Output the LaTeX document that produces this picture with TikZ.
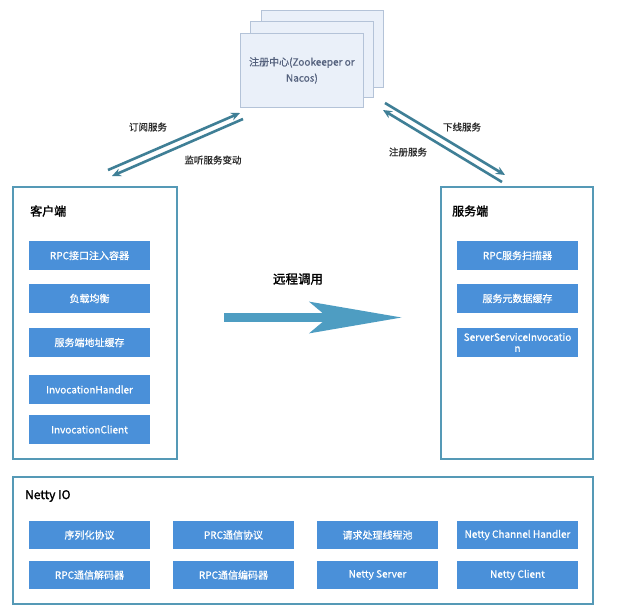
\documentclass[tikz,border=0pt]{standalone}
\usepackage{fontspec}
\setmainfont{Noto Sans CJK SC}
\newfontfamily\semib{Noto Sans CJK SC}[FakeBold=0.8]
\newfontfamily\heavyf{Noto Sans CJK SC}[FakeBold=1.6]
\usetikzlibrary{arrows.meta}
\definecolor{boxblue}{HTML}{4A90D9}
\definecolor{framecol}{HTML}{5599B6}
\definecolor{arrowteal}{HTML}{3F7F96}
\definecolor{bigarrowcol}{HTML}{4E9DC2}
\definecolor{regfill}{HTML}{EAF0F9}
\definecolor{regline}{HTML}{B4C3D8}
\definecolor{regtext}{HTML}{55627E}
\definecolor{labtext}{HTML}{2A2A2A}
\begin{document}
\begin{tikzpicture}[x=1pt,y=-1pt,
  item/.style={fill=boxblue,text=white,minimum width=121pt,minimum height=29pt,inner sep=1pt,font=\semib\fontsize{10}{12}\selectfont,align=center},
  frameb/.style={draw=framecol,line width=2.4pt,fill=white},
  title/.style={anchor=west,font=\heavyf\fontsize{12}{14}\selectfont,text=black,inner sep=0pt},
  lab/.style={font=\semib\fontsize{9.5}{11}\selectfont,text=labtext,inner sep=0pt},
  reg/.style={draw=regline,line width=0.8pt,fill=regfill},
  link/.style={draw=arrowteal,line width=2.6pt,-{Stealth[length=9pt,width=8pt]}}
]
\useasboundingbox (0,0) rectangle (640,614);
\fill[white] (0,0) rectangle (640,614);

% registry stack
\node[reg,anchor=north west,minimum width=122pt,minimum height=77pt] (reg3) at (261,10) {};
\node[reg,anchor=north west,minimum width=123pt,minimum height=76pt] (reg2) at (250,21) {};
\node[reg,anchor=north west,minimum width=123pt,minimum height=74pt,align=center,text=regtext,font=\semib\fontsize{10}{16}\selectfont] (reg) at (240,33) {注册中心(Zookeeper or\\Nacos)};

% client
\node[frameb,anchor=north west,minimum width=164pt,minimum height=272pt] (client) at (12,186) {};
\node[title] (clientt) at (30,211) {客户端};
\node[item] (c1) at (89.5,255.5) {RPC接口注入容器};
\node[item] (c2) at (89.5,298.5) {负载均衡};
\node[item] (c3) at (89.5,342.5) {服务端地址缓存};
\node[item] (c4) at (89.5,389.5) {InvocationHandler};
\node[item] (c5) at (89.5,429.5) {InvocationClient};

% server
\node[frameb,anchor=north west,minimum width=152pt,minimum height=272pt] (server) at (440,186) {};
\node[title] (servert) at (452,211) {服务端};
\node[item] (s1) at (517.5,255.5) {RPC服务扫描器};
\node[item] (s2) at (517.5,298.5) {服务元数据缓存};
\node[item,font=\semib\fontsize{10}{11}\selectfont] (s3) at (517.5,342.5) {ServerServiceInvocatio\\n};

% netty
\node[frameb,anchor=north west,minimum width=580pt,minimum height=127pt] (netty) at (12,476) {};
\node[title] (nettyt) at (25,496) {Netty IO};
\node[item,minimum height=28pt] (n1) at (89.5,535) {序列化协议};
\node[item,minimum height=28pt] (n2) at (233.5,535) {PRC通信协议};
\node[item,minimum height=28pt] (n3) at (377.5,535) {请求处理线程池};
\node[item,minimum height=28pt] (n4) at (517.5,535) {Netty Channel Handler};
\node[item,minimum height=28pt] (n5) at (89.5,575) {RPC通信解码器};
\node[item,minimum height=28pt] (n6) at (233.5,575) {RPC通信编码器};
\node[item,minimum height=28pt] (n7) at (377.5,575) {Netty Server};
\node[item,minimum height=28pt] (n8) at (517.5,575) {Netty Client};

% remote call arrow
\coordinate (ra) at (224,317.5);
\coordinate (rb) at (402,317.5);
\draw[bigarrowcol,line width=9pt,-{Stealth[length=92pt,width=31pt,inset=18pt]}] (ra) -- (rb);
\node[font=\heavyf\fontsize{12.5}{14}\selectfont,inner sep=0pt] (rcall) at (298,279) {远程调用};

% registry links
\coordinate (l1s) at (108,170);
\coordinate (l1e) at (240,113);
\coordinate (l2s) at (243,119);
\coordinate (l2e) at (112,176);
\draw[link] (l1s) -- (l1e);
\draw[link] (l2s) -- (l2e);
\node[lab] (lsub) at (148,127) {订阅服务};
\node[lab] (llis) at (213,160) {监听服务变动};

\coordinate (r1s) at (385,103);
\coordinate (r1e) at (505,175);
\coordinate (r2s) at (502,182);
\coordinate (r2e) at (383,110);
\draw[link] (r1s) -- (r1e);
\draw[link] (r2s) -- (r2e);
\node[lab] (roff) at (462,127) {下线服务};
\node[lab] (rreg) at (408,152) {注册服务};
\end{tikzpicture}
\end{document}
